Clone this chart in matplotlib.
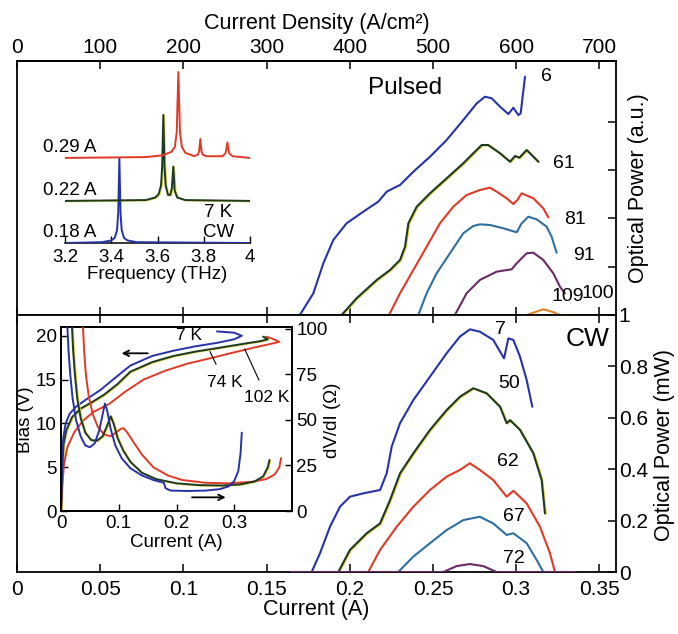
import matplotlib
matplotlib.use('Agg')
import matplotlib.pyplot as plt
import matplotlib.transforms as mtransforms

plt.rcParams['font.family'] = ['Liberation Sans', 'DejaVu Sans']

# ---------------- colours ----------------
BLUE = '#2633a8'
GREEN = '#1d3b24'
FRINGE = '#e6d44a'
RED = '#e03a26'
TEAL = '#2f6f9f'
PURPLE = '#6b2a66'
ORANGE = '#d9822b'

# ---------------- pulsed light-current curves (a.u.) ----------------
p6_I = [0.1700, 0.1781, 0.1841, 0.1901, 0.1981, 0.2081, 0.2171, 0.2222, 0.2261, 0.2302,
        0.2382, 0.2482, 0.2582, 0.2682, 0.2763, 0.2812, 0.2853, 0.2903, 0.2953, 0.2983,
        0.3013, 0.3027, 0.3053]
p6_P = [0.0, 0.449, 1.07, 1.553, 1.899, 2.139, 2.346, 2.553, 2.623, 2.692,
        2.967, 3.277, 3.623, 4.037, 4.383, 4.520, 4.487, 4.313, 4.161, 4.292,
        4.141, 4.176, 4.934]

p61_I = [0.1951, 0.2041, 0.2162, 0.2242, 0.2302, 0.2332, 0.2352, 0.2402, 0.2482, 0.2582,
         0.2682, 0.2742, 0.2793, 0.2832, 0.2903, 0.2963, 0.2993, 0.3019, 0.3063, 0.3093,
         0.3133]
p61_P = [0.0, 0.346, 0.725, 0.932, 1.139, 1.414, 1.899, 2.242, 2.520, 2.830,
         3.141, 3.348, 3.520, 3.520, 3.348, 3.174, 3.292, 3.257, 3.416, 3.313,
         3.174]

p81_I = [0.2236, 0.2302, 0.2382, 0.2462, 0.2542, 0.2622, 0.2702, 0.2782, 0.2843, 0.2883,
         0.2943, 0.2983, 0.3007, 0.3033, 0.3103, 0.3163, 0.3193]
p81_P = [0.0, 0.449, 0.932, 1.414, 1.899, 2.242, 2.484, 2.588, 2.636, 2.553,
         2.416, 2.298, 2.381, 2.520, 2.416, 2.209, 2.023]

p91_I = [0.2412, 0.2462, 0.2522, 0.2602, 0.2682, 0.2742, 0.2782, 0.2843, 0.2923, 0.3003,
         0.3033, 0.3073, 0.3123, 0.3183, 0.3213, 0.3243]
p91_P = [0.0, 0.449, 0.863, 1.277, 1.692, 1.843, 1.877, 1.863, 1.795, 1.712,
         1.899, 2.035, 1.981, 1.829, 1.621, 1.290]

p100_I = [0.2632, 0.2702, 0.2782, 0.2883, 0.2973, 0.3003, 0.3063, 0.3103, 0.3163, 0.3223,
          0.3263, 0.3293]
p100_P = [0.0, 0.449, 0.725, 0.897, 0.946, 1.070, 1.277, 1.290, 1.139, 0.863,
          0.586, 0.449]

p109_I = [0.3000, 0.3063, 0.3123, 0.3163, 0.3213, 0.3263, 0.3340]
p109_P = [0.0, 0.0, 0.07, 0.118, 0.07, 0.0, 0.0]

pulsed_labels = ['6', '61', '81', '91', '100', '109']
pulsed_label_I = [0.3150, 0.3220, 0.3290, 0.3340, 0.3394, 0.3213]
pulsed_label_P = [4.934, 3.141, 1.967, 1.242, 0.449, 0.379]

# ---------------- CW light-current curves (mW) ----------------
cw7_I = [0.1650, 0.1771, 0.1821, 0.1881, 0.1941, 0.2001, 0.2081, 0.2182, 0.2222, 0.2252,
         0.2302, 0.2382, 0.2482, 0.2582, 0.2662, 0.2722, 0.2782, 0.2862, 0.2927, 0.2953,
         0.2983, 0.3023, 0.3063, 0.3097]
cw7_P = [0.0, 0.0, 0.073, 0.176, 0.254, 0.293, 0.306, 0.319, 0.384, 0.488,
         0.579, 0.669, 0.760, 0.851, 0.916, 0.944, 0.935, 0.903, 0.831, 0.909,
         0.903, 0.838, 0.747, 0.643]

cw50_I = [0.1800, 0.1931, 0.2001, 0.2102, 0.2182, 0.2242, 0.2302, 0.2382, 0.2482, 0.2582,
          0.2662, 0.2742, 0.2823, 0.2903, 0.2943, 0.2963, 0.3023, 0.3103, 0.3153, 0.3173]
cw50_P = [0.0, 0.0, 0.086, 0.151, 0.189, 0.280, 0.384, 0.462, 0.553, 0.630,
          0.682, 0.715, 0.695, 0.643, 0.579, 0.591, 0.553, 0.462, 0.358, 0.228]

cw62_I = [0.2000, 0.2111, 0.2182, 0.2282, 0.2382, 0.2482, 0.2582, 0.2662, 0.2722, 0.2782,
          0.2862, 0.2943, 0.2983, 0.3063, 0.3143, 0.3203, 0.3233, 0.3300]
cw62_P = [0.0, 0.0, 0.086, 0.176, 0.254, 0.319, 0.371, 0.397, 0.423, 0.397,
          0.358, 0.293, 0.316, 0.267, 0.176, 0.073, 0.0, 0.0]

cw67_I = [0.2150, 0.2291, 0.2382, 0.2482, 0.2582, 0.2682, 0.2782, 0.2862, 0.2943, 0.2983,
          0.3063, 0.3123, 0.3163, 0.3300]
cw67_P = [0.0, 0.0, 0.060, 0.112, 0.163, 0.202, 0.215, 0.189, 0.144, 0.151,
          0.112, 0.047, 0.0, 0.0]

cw72_I = [0.1650, 0.2562, 0.2642, 0.2722, 0.2802, 0.2883, 0.3350]
cw72_P = [0.0, 0.0, 0.023, 0.031, 0.023, 0.0, 0.0]

cw_labels = ['7', '50', '62', '67', '72']
cw_label_I = [0.2870, 0.2893, 0.2883, 0.2923, 0.2923]
cw_label_P = [0.945, 0.734, 0.429, 0.215, 0.053]

# ---------------- axis ticks ----------------
current_ticks = [0, 0.05, 0.1, 0.15, 0.2, 0.25, 0.3, 0.35]
current_tick_labels = ['0', '0.05', '0.1', '0.15', '0.2', '0.25', '0.3', '0.35']
density_ticks = [0, 100, 200, 300, 400, 500, 600, 700]
power_ticks = [0, 0.2, 0.4, 0.6, 0.8, 1.0]
power_tick_labels = ['0', '0.2', '0.4', '0.6', '0.8', '1']
pulsed_ticks = [1, 2, 3, 4]
DENSITY_PER_AMP = 2000.0   # A/cm^2 per A

# ---------------- CW spectra (normalised, offset) ----------------
spec018_f = [3.20, 3.36, 3.40, 3.415, 3.425, 3.430, 3.435, 3.440, 3.445, 3.455, 3.47, 3.51, 4.00]
spec018_a = [0.0, 0.01, 0.03, 0.06, 0.15, 0.35, 0.99, 0.35, 0.15, 0.06, 0.03, 0.01, 0.0]
spec022_f = [3.20, 3.55, 3.59, 3.605, 3.615, 3.620, 3.625, 3.630, 3.635, 3.645, 3.655,
             3.662, 3.668, 3.674, 3.685, 3.72, 4.00]
spec022_a = [0.0, 0.01, 0.04, 0.08, 0.18, 0.40, 1.00, 0.40, 0.18, 0.07, 0.07,
             0.15, 0.40, 0.12, 0.04, 0.01, 0.0]
spec029_f = [3.20, 3.55, 3.62, 3.66, 3.675, 3.683, 3.690, 3.697, 3.705, 3.72, 3.76,
             3.775, 3.780, 3.785, 3.790, 3.795, 3.81, 3.88, 3.893, 3.897, 3.902,
             3.907, 3.911, 3.925, 4.00]
spec029_a = [0.0, 0.01, 0.03, 0.07, 0.13, 0.30, 1.00, 0.30, 0.13, 0.06, 0.02,
             0.04, 0.08, 0.22, 0.08, 0.04, 0.02, 0.02, 0.05, 0.09, 0.18,
             0.09, 0.05, 0.02, 0.0]
spec_offsets = [0.0, 0.49, 0.99]
spec_labels = ['0.18 A', '0.22 A', '0.29 A']
freq_ticks = [3.2, 3.4, 3.6, 3.8, 4.0]
freq_tick_labels = ['3.2', '3.4', '3.6', '3.8', '4']

# ---------------- bias and differential resistance ----------------
iv7_I = [0.0, 0.0015, 0.004, 0.008, 0.015, 0.026, 0.045, 0.068, 0.090, 0.120, 0.158,
         0.195, 0.233, 0.271, 0.300, 0.313, 0.300, 0.270]
iv7_V = [0.0, 5.8, 8.4, 10.0, 11.1, 11.9, 12.8, 13.8, 15.0, 16.6, 17.7,
         18.3, 18.8, 19.2, 19.6, 20.0, 20.35, 20.5]
iv74_I = [0.0, 0.002, 0.0045, 0.009, 0.019, 0.034, 0.053, 0.075, 0.098, 0.120, 0.158,
          0.195, 0.233, 0.271, 0.308, 0.346, 0.358, 0.350]
iv74_V = [0.0, 4.7, 7.7, 9.2, 10.7, 11.7, 12.4, 13.3, 14.5, 15.9, 17.0,
          17.7, 18.2, 18.6, 19.0, 19.4, 19.6, 19.9]
iv102_I = [0.0, 0.002, 0.0053, 0.011, 0.023, 0.038, 0.056, 0.083, 0.113, 0.143, 0.180,
           0.218, 0.256, 0.293, 0.331, 0.378, 0.365, 0.355]
iv102_V = [0.0, 2.8, 5.4, 7.3, 9.0, 10.3, 11.3, 12.2, 13.7, 15.0, 16.0,
           16.8, 17.4, 18.0, 18.6, 19.3, 19.7, 19.9]

dr7_I = [0.011, 0.013, 0.016, 0.020, 0.026, 0.034, 0.042, 0.050, 0.058, 0.066, 0.072,
         0.076, 0.080, 0.086, 0.094, 0.105, 0.120, 0.140, 0.160, 0.178, 0.181, 0.190,
         0.220, 0.250, 0.275, 0.290, 0.300, 0.307, 0.311, 0.313]
dr7_R = [101, 88, 75, 62, 50, 41, 36, 35, 37, 44, 53,
         59, 55, 45, 36, 29, 23.5, 19.5, 17, 15.5, 12.5, 11.2,
         11.0, 11.2, 12, 13.5, 16.5, 22, 32, 43]
dr74_I = [0.019, 0.021, 0.024, 0.028, 0.034, 0.042, 0.052, 0.062, 0.072, 0.080, 0.086,
          0.091, 0.098, 0.108, 0.120, 0.140, 0.165, 0.200, 0.240, 0.280, 0.310, 0.335,
          0.350, 0.358, 0.361]
dr74_R = [101, 88, 75, 62, 51, 43, 39, 38.5, 41, 47, 52,
          48, 40, 33, 27, 21, 17.5, 15.2, 14.2, 14.0, 14.6, 16.2,
          19, 24, 28]
dr102_I = [0.038, 0.040, 0.043, 0.048, 0.055, 0.064, 0.075, 0.086, 0.095, 0.103, 0.108,
           0.115, 0.125, 0.140, 0.160, 0.185, 0.210, 0.250, 0.290, 0.330, 0.355, 0.370,
           0.378, 0.381]
dr102_R = [101, 88, 75, 63, 53, 46, 42, 41, 43, 45, 45.5,
           43, 38, 31, 24, 19.5, 17, 15.5, 15.2, 16, 17.5, 20,
           24, 29]

bias_ticks = [0, 5, 10, 15, 20]
dvdi_ticks = [0, 25, 50, 75, 100]
inset_current_ticks = [0, 0.1, 0.2, 0.3]
inset_current_labels = ['0', '0.1', '0.2', '0.3']


fig = plt.figure(figsize=(6.78, 6.34), dpi=100)
SPINE_W = 1.3
CURVE_W = 1.5
TICK_FS = 15
LABEL_FS = 15.5
INSET_FS = 13.5


def fringe_transform(ax, dx=0.9, dy=-0.5):
    return mtransforms.offset_copy(ax.transData, fig=fig, x=dx, y=dy, units='dots')


def draw(ax, x, y, color, fringe=False, lw=CURVE_W, z=3):
    if fringe:
        ax.plot(x, y, color=FRINGE, lw=lw, transform=fringe_transform(ax), zorder=z - 0.5,
                solid_capstyle='round')
    ax.plot(x, y, color=color, lw=lw, zorder=z, solid_capstyle='round')


def style_spines(ax):
    for s in ax.spines.values():
        s.set_linewidth(SPINE_W)


# ---------------- pulsed panel ----------------
ax_p = fig.add_axes([0.02507, 0.5032, 0.8835, 0.4006])
ax_p.set_xlim(0, 0.36)
ax_p.set_ylim(0, 5.26)
style_spines(ax_p)
ax_p.set_xticks(current_ticks)
ax_p.set_yticks(pulsed_ticks)
ax_p.tick_params(axis='x', direction='in', length=6, width=1.1, bottom=True, top=False,
                 labelbottom=False)
ax_p.tick_params(axis='y', direction='in', length=6, width=1.1, left=False, right=True,
                 labelleft=False, labelright=False)

pulsed_I = [p6_I, p61_I, p81_I, p91_I, p100_I, p109_I]
pulsed_P = [p6_P, p61_P, p81_P, p91_P, p100_P, p109_P]
pulsed_colors = [BLUE, GREEN, RED, TEAL, PURPLE, ORANGE]
for xs, ys, c in zip(pulsed_I, pulsed_P, pulsed_colors):
    draw(ax_p, xs, ys, c, fringe=(c == GREEN))
for lab, lx, ly in zip(pulsed_labels, pulsed_label_I, pulsed_label_P):
    ax_p.text(lx, ly, lab, fontsize=14, ha='left', va='center')
ax_p.text(0.2332, 4.694, 'Pulsed', fontsize=17.5, ha='center', va='center')

sec = ax_p.secondary_xaxis('top', functions=(lambda i: i * DENSITY_PER_AMP,
                                              lambda d: d / DENSITY_PER_AMP))
sec.set_xticks(density_ticks)
sec.set_xticklabels([str(d) for d in density_ticks])
sec.tick_params(direction='in', length=6, width=1.1, pad=3, labelsize=TICK_FS)
sec.spines['top'].set_linewidth(SPINE_W)
sec.set_xlabel('Current Density (A/cm²)', fontsize=LABEL_FS, labelpad=6)

ax_p.set_ylabel('Optical Power (a.u.)', fontsize=LABEL_FS, rotation=90)
ax_p.yaxis.set_label_position('right')
ax_p.yaxis.set_label_coords(1.020, 0.5)

# ---------------- CW panel ----------------
ax_c = fig.add_axes([0.02507, 0.09779, 0.8835, 0.4054])
ax_c.set_xlim(0, 0.36)
ax_c.set_ylim(0, 1.0)
style_spines(ax_c)
ax_c.set_xticks(current_ticks)
ax_c.set_xticklabels(current_tick_labels)
ax_c.set_yticks(power_ticks)
ax_c.set_yticklabels(power_tick_labels)
ax_c.tick_params(axis='x', direction='in', length=6, width=1.1, bottom=True, top=True,
                 labelsize=TICK_FS, pad=6)
ax_c.tick_params(axis='y', direction='in', length=6, width=1.1, left=False, right=True,
                 labelleft=False, labelright=True, labelsize=TICK_FS, pad=2)

cw_I = [cw7_I, cw50_I, cw62_I, cw67_I, cw72_I]
cw_P = [cw7_P, cw50_P, cw62_P, cw67_P, cw72_P]
cw_colors = [BLUE, GREEN, RED, TEAL, PURPLE]
for xs, ys, c in zip(cw_I, cw_P, cw_colors):
    draw(ax_c, xs, ys, c, fringe=(c == GREEN))
for lab, lx, ly in zip(cw_labels, cw_label_I, cw_label_P):
    ax_c.text(lx, ly, lab, fontsize=14, ha='left', va='center')
ax_c.text(0.356, 0.905, 'CW', fontsize=19, ha='right', va='center')

ax_c.set_xlabel('Current (A)', fontsize=LABEL_FS, labelpad=0)
ax_c.set_ylabel('Optical Power (mW)', fontsize=LABEL_FS, rotation=90)
ax_c.yaxis.set_label_position('right')
ax_c.yaxis.set_label_coords(1.063, 0.494)

# ---------------- spectra inset ----------------
ax_s = fig.add_axes([0.0959, 0.6167, 0.2729, 0.2792])
ax_s.patch.set_alpha(0)
ax_s.set_xlim(3.2, 4.0)
ax_s.set_ylim(0, 2.06)
for side in ('top', 'left', 'right'):
    ax_s.spines[side].set_visible(False)
ax_s.spines['bottom'].set_linewidth(1.1)
ax_s.set_xticks(freq_ticks)
ax_s.set_xticklabels(freq_tick_labels)
ax_s.set_yticks([])
ax_s.tick_params(axis='x', direction='in', length=5, width=1.0, labelsize=13.5, pad=4)
spec_f = [spec018_f, spec022_f, spec029_f]
spec_a = [spec018_a, spec022_a, spec029_a]
spec_colors = [BLUE, GREEN, RED]
for fs, amps, off, c, lab in zip(spec_f, spec_a, spec_offsets, spec_colors, spec_labels):
    draw(ax_s, fs, [a + off for a in amps], c, fringe=(c == GREEN), lw=1.4)
    ax_s.text(3.105, off + 0.12, lab, fontsize=13.5, ha='left', va='center', clip_on=False)
ax_s.text(3.862, 0.35, '7 K', fontsize=13.5, ha='center', va='center')
ax_s.text(3.862, 0.12, 'CW', fontsize=13.5, ha='center', va='center')
ax_s.set_xlabel('Frequency (THz)', fontsize=13.5, labelpad=0)

# ---------------- bias / dV/dI inset ----------------
ax_v = fig.add_axes([0.0900, 0.1940, 0.3407, 0.2902])
ax_v.set_facecolor('white')
ax_v.set_xlim(0, 0.4)
ax_v.set_ylim(0, 21)
style_spines(ax_v)
ax_v.set_xticks(inset_current_ticks)
ax_v.set_xticklabels(inset_current_labels)
ax_v.set_yticks(bias_ticks)
ax_v.tick_params(direction='in', length=5, width=1.0, labelsize=INSET_FS, pad=3)
ax_r = ax_v.twinx()
ax_r.set_ylim(0, 101)
ax_r.set_yticks(dvdi_ticks)
ax_r.tick_params(direction='in', length=5, width=1.0, labelsize=INSET_FS, pad=3)
for s in ax_r.spines.values():
    s.set_linewidth(SPINE_W)

iv_I = [iv102_I, iv74_I, iv7_I]
iv_V = [iv102_V, iv74_V, iv7_V]
dr_I = [dr102_I, dr74_I, dr7_I]
dr_R = [dr102_R, dr74_R, dr7_R]
iv_colors = [RED, GREEN, BLUE]
for xs, ys, c in zip(iv_I, iv_V, iv_colors):
    draw(ax_v, xs, ys, c, fringe=(c == GREEN), lw=1.4)
for xs, ys, c in zip(dr_I, dr_R, iv_colors):
    draw(ax_r, xs, ys, c, fringe=(c == GREEN), lw=1.4)

ax_v.annotate('', xy=(0.100, 18.0), xytext=(0.155, 18.0),
              arrowprops=dict(arrowstyle='->', lw=1.3, color='black'))
ax_r.annotate('', xy=(0.290, 7.5), xytext=(0.222, 7.5),
              arrowprops=dict(arrowstyle='->', lw=1.3, color='black'))
ax_v.text(0.222, 20.0, '7 K', fontsize=12.5, ha='center', va='center')
ax_v.annotate('74 K', xy=(0.258, 18.2), xytext=(0.283, 14.7), fontsize=12.5,
              ha='center', va='center',
              arrowprops=dict(arrowstyle='-', lw=0.8, color='black', shrinkA=6, shrinkB=0))
ax_v.annotate('102 K', xy=(0.318, 18.5), xytext=(0.357, 12.9), fontsize=12.5,
              ha='center', va='center',
              arrowprops=dict(arrowstyle='-', lw=0.8, color='black', shrinkA=6, shrinkB=0))

ax_v.set_xlabel('Current (A)', fontsize=INSET_FS, labelpad=1)
ax_v.set_ylabel('Bias (V)', fontsize=INSET_FS)
ax_v.yaxis.set_label_coords(-0.115, 0.495)
ax_r.set_ylabel('dV/dI (Ω)', fontsize=INSET_FS, rotation=90)
ax_r.yaxis.set_label_coords(1.14, 0.495)

fig.savefig('out.png', dpi=100)
